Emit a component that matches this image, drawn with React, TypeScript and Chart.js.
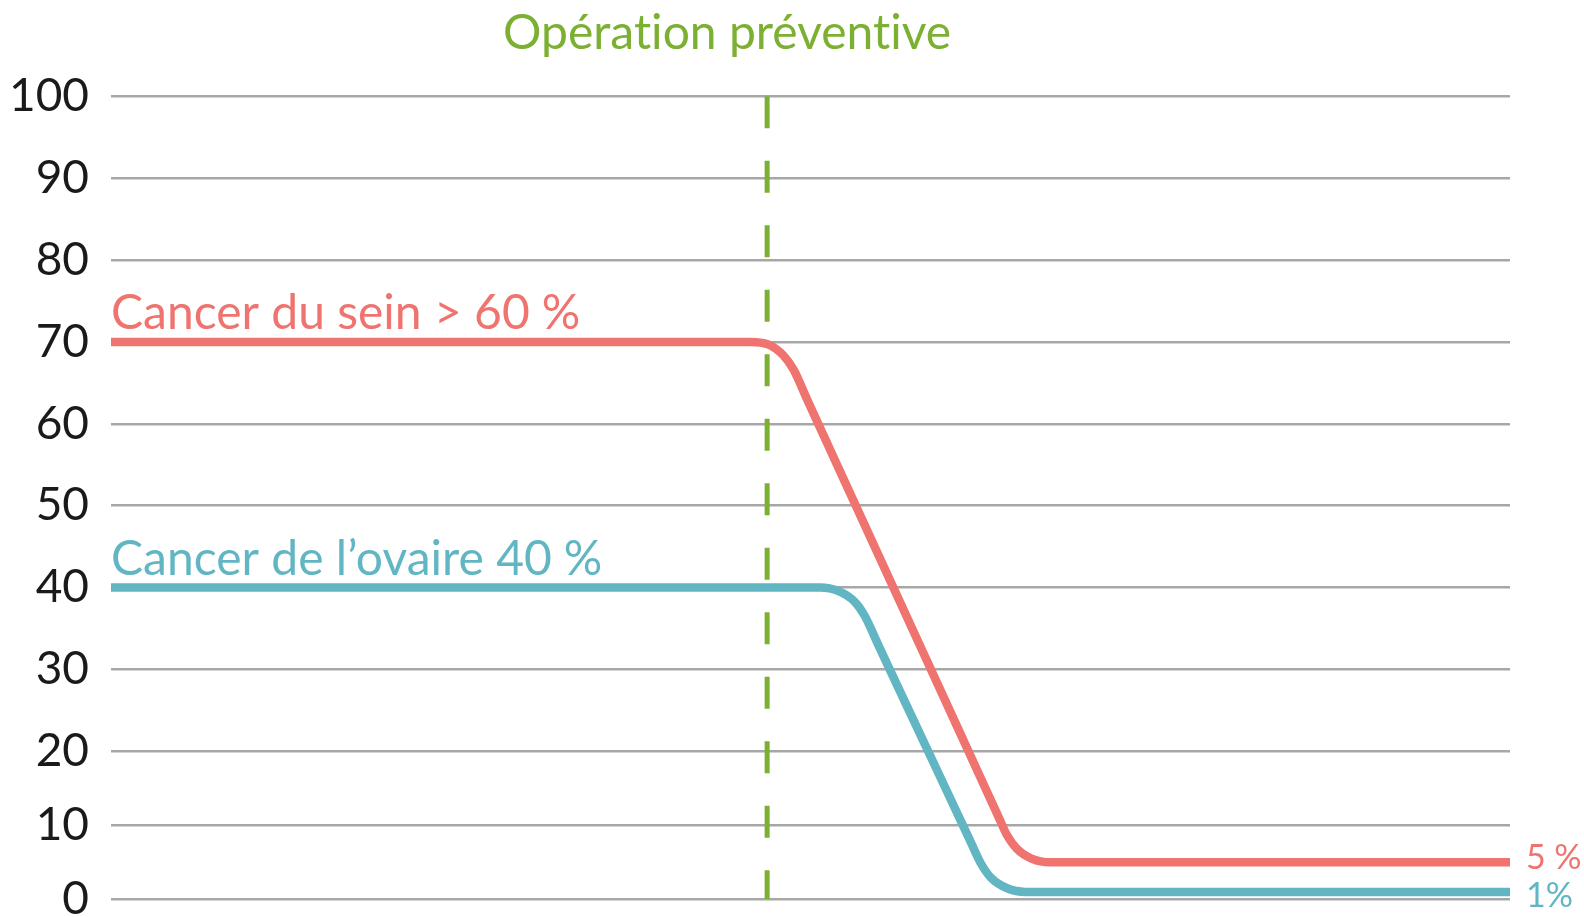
import { useEffect, useRef } from "react";
import { Chart, LinearScale, registerables } from "chart.js";

Chart.register(...registerables);

// Risk curves (x: time from start of follow-up, arbitrary units; y: lifetime risk in %)
const breastX = [0, 45.68, 46.96, 48.06, 48.8, 49.75, 53.24, 58.61, 61.29, 63.47, 64.01, 64.75, 65.84, 67.13, 100];
const breastY = [70, 70, 69.69, 68.35, 66.58, 63, 50, 30, 20, 11, 8.79, 6.83, 5.47, 5, 5];
const ovaryX = [0, 50.68, 52.0, 53.14, 53.88, 54.84, 55.66, 58.41, 61.39, 62.18, 62.92, 64.06, 65.38, 100];
const ovaryY = [40, 40, 39.56, 38.3, 36.52, 33, 30, 20, 8, 4.84, 2.88, 1.49, 1, 1];

// Time of the preventive surgery
const surgeryX = 46.9;

const yTicks = [0, 10, 20, 30, 40, 50, 60, 70, 80, 90, 100];

const TITLE = "Opération préventive";
const BREAST_LABEL = "Cancer du sein > 60\u202F%";
const OVARY_LABEL = "Cancer de l\u2019ovaire 40\u202F%";
const BREAST_END = "5\u202F%";
const OVARY_END = "1%";

const PINK = "#ef7470";
const BLUE = "#62b6c4";
const GREEN = "#7cb032";
const GRID = "#a7a7a7";
const FONT = "Lato, 'Open Sans', sans-serif";

// The band below LOW_CUTOFF is drawn slightly compressed
const LOW_CUTOFF = 20;
const LOW_FACTOR = 0.904;

class BandedScale extends LinearScale {
  static id = "banded";
  static defaults = {};

  toBand(v: number) {
    return v < LOW_CUTOFF ? v * LOW_FACTOR : LOW_CUTOFF * LOW_FACTOR + (v - LOW_CUTOFF);
  }

  fromBand(u: number) {
    const cut = LOW_CUTOFF * LOW_FACTOR;
    return u < cut ? u / LOW_FACTOR : LOW_CUTOFF + (u - cut);
  }

  getPixelForValue(value: number) {
    if (value === null || value === undefined || isNaN(value)) return NaN;
    const lo = this.toBand(this.min);
    const hi = this.toBand(this.max);
    return this.getPixelForDecimal((this.toBand(value) - lo) / (hi - lo));
  }

  getValueForPixel(pixel: number) {
    const lo = this.toBand(this.min);
    const hi = this.toBand(this.max);
    return this.fromBand(lo + this.getDecimalForPixel(pixel) * (hi - lo));
  }
}

Chart.register(BandedScale);

const toPoints = (xs: number[], ys: number[]) => xs.map((x, i) => ({ x, y: ys[i] }));

// keep "t" and "i" as separate glyphs (no "ti" ligature)
const noLigature = (s: string) => s.replace(/ti/g, "t\u200Ci");

const annotations = {
  id: "annotations",
  afterDatasetsDraw(chart: any) {
    const { ctx, chartArea } = chart;
    const y = chart.scales.y;
    const x = chart.scales.x;
    ctx.save();
    ctx.textBaseline = "alphabetic";

    // Title above the surgery marker
    ctx.font = `48px ${FONT}`;
    ctx.fillStyle = GREEN;
    ctx.textAlign = "center";
    ctx.fillText(noLigature(TITLE), x.getPixelForValue(surgeryX) - 40, 49);

    // Series names above the starting plateau
    ctx.textAlign = "left";
    ctx.fillStyle = PINK;
    ctx.fillText(BREAST_LABEL, chartArea.left, y.getPixelForValue(breastY[0]) - 13);
    ctx.fillStyle = BLUE;
    ctx.fillText(OVARY_LABEL, chartArea.left, y.getPixelForValue(ovaryY[0]) - 13);

    // Residual risk at the right end
    ctx.font = `34px ${FONT}`;
    ctx.textBaseline = "middle";
    ctx.fillStyle = PINK;
    ctx.fillText(BREAST_END, chartArea.right + 16, y.getPixelForValue(breastY[breastY.length - 1]) - 4);
    ctx.fillStyle = BLUE;
    ctx.fillText(OVARY_END, chartArea.right + 16, y.getPixelForValue(ovaryY[ovaryY.length - 1]) + 4);
    ctx.restore();
  },
};

function RiskChart() {
  const canvasRef = useRef<HTMLCanvasElement | null>(null);

  useEffect(() => {
    const canvas = canvasRef.current;
    if (!canvas) return;
    const lineStyle = {
      borderWidth: 8.5,
      borderCapStyle: "round" as const,
      borderJoinStyle: "round" as const,
      pointRadius: 0,
      fill: false,
      cubicInterpolationMode: "monotone" as const,
    };
    const chart = new Chart(canvas, {
      type: "line",
      data: {
        datasets: [
          { ...lineStyle, data: toPoints(breastX, breastY), borderColor: PINK },
          { ...lineStyle, data: toPoints(ovaryX, ovaryY), borderColor: BLUE },
          {
            data: [
              { x: surgeryX, y: 100 },
              { x: surgeryX, y: 0 },
            ],
            borderColor: GREEN,
            borderWidth: 5,
            borderDash: [32, 32.5],
            borderCapStyle: "butt",
            pointRadius: 0,
            fill: false,
          },
        ],
      },
      options: {
        responsive: false,
        animation: false,
        events: [],
        layout: { padding: { top: 96.3, bottom: 17.7, left: 0, right: 74 } },
        plugins: {
          legend: { display: false },
          tooltip: { enabled: false },
          title: { display: false },
        },
        scales: {
          x: { type: "linear", min: 0, max: 100, display: false },
          y: {
            type: "banded" as any,
            min: 0,
            max: 100,
            afterBuildTicks: (scale: any) => {
              scale.ticks = yTicks.map((v) => ({ value: v }));
            },
            afterFit: (scale: any) => {
              scale.width = 111;
            },
            ticks: {
              color: "#1a1a1a",
              padding: 0,
              font: { family: FONT, size: 46, lineHeight: 0.7 },
            },
            grid: {
              color: GRID,
              lineWidth: 2.5,
              drawTicks: true,
              tickLength: 22,
              tickColor: "rgba(0,0,0,0)",
            },
            border: { display: false },
          },
        },
      },
      plugins: [annotations],
    });
    return () => chart.destroy();
  }, []);

  return <canvas ref={canvasRef} width={1584} height={917} style={{ display: "block" }} />;
}

export default function App() {
  return (
    <div style={{ position: "fixed", left: 0, top: 0, width: 1584, height: 917, background: "#ffffff" }}>
      <RiskChart />
    </div>
  );
}
